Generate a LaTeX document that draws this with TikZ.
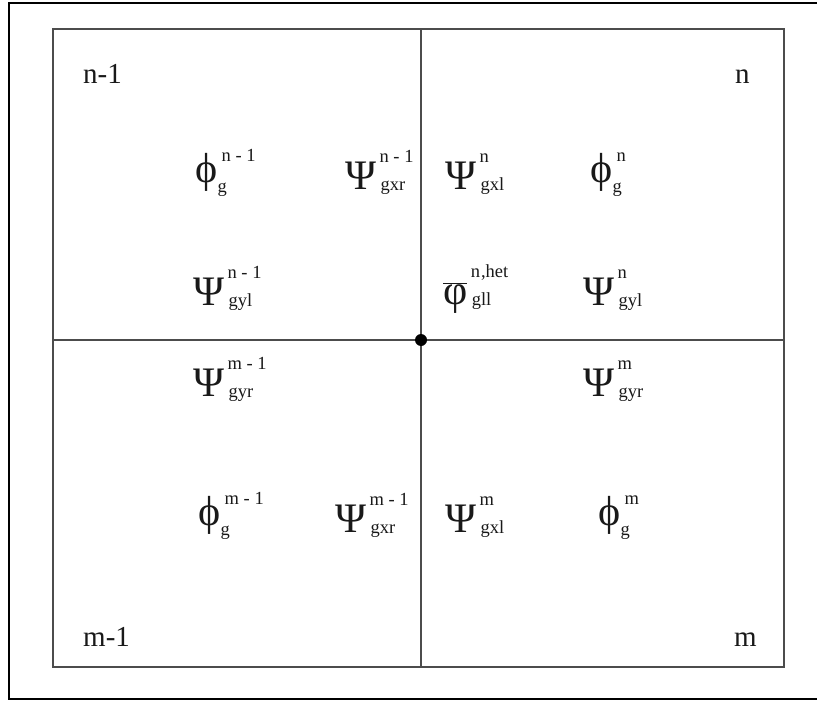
\documentclass[tikz,border=0pt]{standalone}
\usepackage{fontspec}
\setmainfont{Liberation Serif}
\usetikzlibrary{calc}
\tikzset{
  frame/.style={line width=2pt, black},
  grid/.style={line width=2.2pt, draw=black!70},
  sym/.style={inner sep=0pt, font=\fontsize{42}{42}\selectfont, text=black!90},
  scr/.style={inner sep=0pt, font=\fontsize{18.5}{18.5}\selectfont, text=black!90},
  corner/.style={inner sep=0pt, font=\fontsize{29}{29}\selectfont, text=black!90, anchor=base west},
}
% Psi-type label: name, x, y, symbol, sup, sub
\newcommand\glab[6]{%
  \node[sym, anchor=base west] (#1) at (#2,#3) {#4};
  \node[scr, anchor=base west] (#1-sup) at ([shift={(3,-27)}]#1.base east) {#5};
  \node[scr, anchor=base west] (#1-sub) at ([shift={(4,1)}]#1.base east) {#6};
}
% phi-type label (glyph raised so its stem ends near the row baseline)
\newcommand\plab[6]{%
  \node[sym, anchor=base west] (#1) at (#2,#3-7) {#4};
  \node[scr, anchor=base west] (#1-sup) at ([shift={(4,-21)}]#1.base east) {#5};
  \node[scr, anchor=base west] (#1-sub) at ([shift={(0,10)}]#1.base east) {#6};
}
\begin{document}
\begin{tikzpicture}[x=1pt,y=-1pt]
\useasboundingbox (0,0) rectangle (817,701);
\fill[white] (0,0) rectangle (817,701);
\draw[frame] (9,3) rectangle (820,699);
% grid
\coordinate (tl) at (53,29);
\coordinate (br) at (784,667);
\coordinate (ct) at (421,29);
\coordinate (cb) at (421,667);
\coordinate (lm) at (53,340);
\coordinate (rm) at (784,340);
\draw[grid] (tl) rectangle (br);
\draw[grid] (ct) -- (cb);
\draw[grid] (lm) -- (rm);
\node[circle, fill=black, inner sep=0pt, minimum size=12pt] (dot) at (421,340) {};
% corner labels
\node[corner] (nm1) at (83,84) {n-1};
\node[corner] (n) at (735,84) {n};
\node[corner] (mm1) at (83,646) {m-1};
\node[corner] (m) at (734,646) {m};
% row 1
\plab{a1}{195}{189}{ϕ}{n - 1}{g}
\glab{a2}{345}{189}{Ψ}{n - 1}{gxr}
\glab{a3}{445}{189}{Ψ}{n}{gxl}
\plab{a4}{590}{189}{ϕ}{n}{g}
% row 2
\glab{b1}{193}{305}{Ψ}{n - 1}{gyl}
\glab{b2}{443}{304}{$\overline{\hbox{φ}}$}{n\kern1pt,het}{gll}
\glab{b3}{583}{305}{Ψ}{n}{gyl}
% row 3
\glab{c1}{193}{396}{Ψ}{m - 1}{gyr}
\glab{c3}{583}{396}{Ψ}{m}{gyr}
% row 4
\plab{d1}{198}{532}{ϕ}{m - 1}{g}
\glab{d2}{335}{532}{Ψ}{m - 1}{gxr}
\glab{d3}{445}{532}{Ψ}{m}{gxl}
\plab{d4}{598}{532}{ϕ}{m}{g}
\end{tikzpicture}
\end{document}
